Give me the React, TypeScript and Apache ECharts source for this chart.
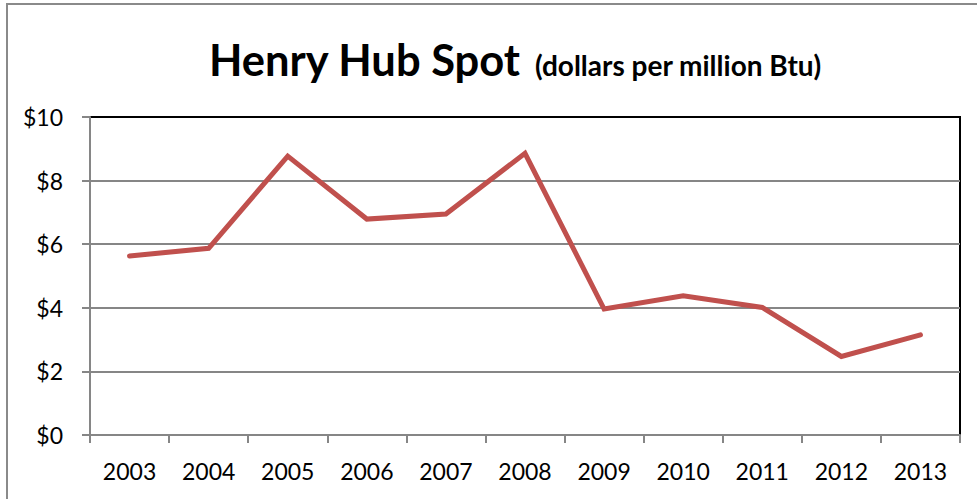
import React, { useEffect, useRef } from "react";
import * as echarts from "echarts";

const years = ["2003", "2004", "2005", "2006", "2007", "2008", "2009", "2010", "2011", "2012", "2013"];
const prices = [5.63, 5.87, 8.77, 6.79, 6.95, 8.86, 3.96, 4.38, 4.01, 2.47, 3.15];
const yTicks = { min: 0, max: 10, interval: 2 };
const titleMain = "Henry Hub Spot";
const titleSub = "(dollars per million Btu)";

const FONT = "Lato";

export default function App() {
  const ref = useRef<HTMLDivElement>(null);
  useEffect(() => {
    if (!ref.current) return;
    const chart = echarts.init(ref.current, null, { renderer: "svg" });
    chart.setOption({
      animation: false,
      backgroundColor: "#fff",
      title: [
        {
          text: titleMain,
          left: 204,
          top: 32,
          textStyle: { fontFamily: FONT, fontWeight: "bold", fontSize: 43.5, color: "#000" },
        },
        {
          text: titleSub,
          left: 530,
          top: 46,
          textStyle: { fontFamily: FONT, fontWeight: "bold", fontSize: 28, color: "#000" },
        },
      ],
      graphic: [
        {
          type: "rect",
          shape: { x: 7, y: 4, width: 1100, height: 700 },
          style: { fill: "none", stroke: "#8a8a8a", lineWidth: 2 },
          silent: true,
        },
      ],
      grid: {
        left: 90,
        top: 117,
        width: 870,
        height: 318,
        show: true,
        borderColor: "#000",
        borderWidth: 2,
        backgroundColor: "transparent",
      },
      xAxis: {
        type: "category",
        data: years,
        boundaryGap: true,
        axisLine: { show: true, lineStyle: { color: "#868686", width: 2 } },
        axisTick: { show: true, length: 8, lineStyle: { color: "#868686", width: 2 } },
        axisLabel: { fontFamily: FONT, fontSize: 23, color: "#000", margin: 24 },
        splitLine: { show: false },
      },
      yAxis: {
        type: "value",
        min: yTicks.min,
        max: yTicks.max,
        interval: yTicks.interval,
        axisLine: { show: true, lineStyle: { color: "#868686", width: 2 } },
        axisTick: { show: true, length: 8, lineStyle: { color: "#868686", width: 2 } },
        axisLabel: {
          fontFamily: FONT,
          fontSize: 23,
          color: "#000",
          margin: 27,
          formatter: (v: number) => "$" + v,
        },
        splitLine: {
          show: true,
          showMinLine: false,
          showMaxLine: false,
          lineStyle: { color: "#868686", width: 2 },
        },
      },
      series: [
        {
          type: "line",
          data: prices,
          symbol: "none",
          lineStyle: { color: "#C0504D", width: 5, cap: "round", join: "miter" },
          itemStyle: { color: "#C0504D" },
        },
      ],
    });
    return () => chart.dispose();
  }, []);
  return (
    <div
      ref={ref}
      style={{ position: "absolute", left: 0, top: 0, width: 977, height: 499 }}
    />
  );
}
